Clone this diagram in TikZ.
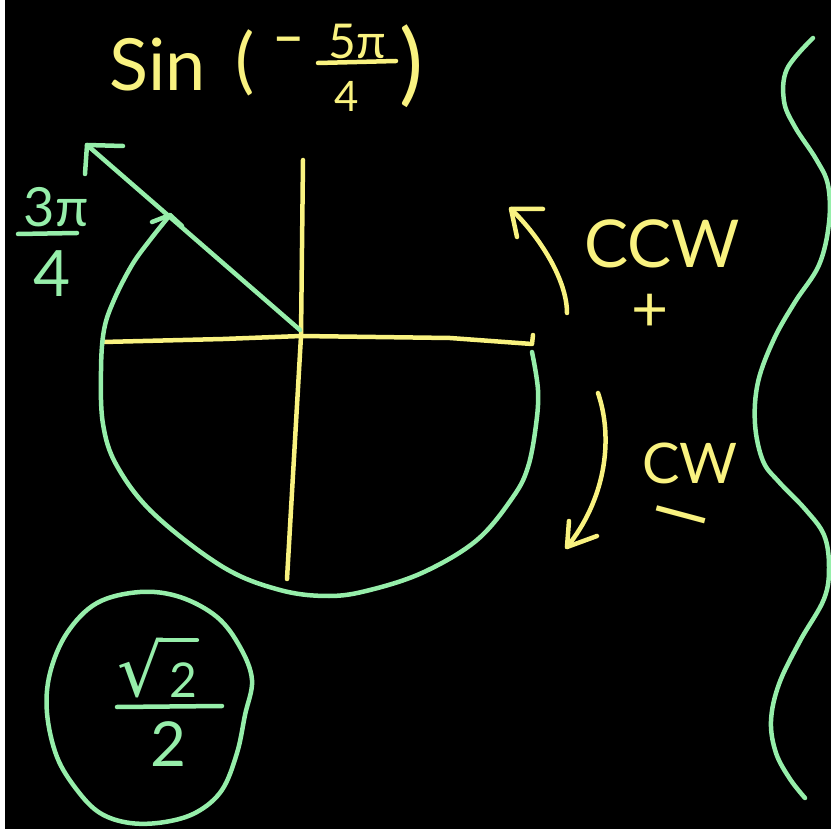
\documentclass[tikz,border=0pt]{standalone}
\usepackage{fontspec}
\setmainfont{Lato}
\newfontfamily\dejavu{DejaVu Sans}
\definecolor{yel}{RGB}{249,242,128}
\definecolor{mint}{RGB}{150,238,170}
\newcommand\handfs[1]{\fontsize{#1}{#1}\selectfont}
\begin{document}
\begin{tikzpicture}[x=1pt,y=-1pt,
  stroke/.style={line width=4.5pt,line cap=round,line join=round},
  ystroke/.style={stroke,draw=yel},
  gstroke/.style={stroke,draw=mint},
  lbl/.style={inner sep=0pt,outer sep=0pt},
  ytxt/.style={lbl,text=yel},
  gtxt/.style={lbl,text=mint}]
\useasboundingbox (0,0) rectangle (831,829);
\fill[white] (0,0) rectangle (831,829);
\fill[black] (5,0) rectangle (831,829);

% title
\node[ytxt,font=\handfs{72},anchor=base] (sin) at (158,91) {Sin};
\node[ytxt,font=\handfs{72},anchor=base] (lpar) at (245,86) {(};
\node[ytxt,font=\dejavu\handfs{52},anchor=base,xscale=0.7,transform shape] (minus) at (289,56) {−};
\node[ytxt,font=\handfs{48},anchor=base] (fivepi) at (357,59) {5π};
\node[ytxt,font=\handfs{42},anchor=base] (four) at (347,112) {4};
\node[ytxt,font=\handfs{90},anchor=base] (rpar) at (412,95) {)};
\coordinate (tb1) at (318,63); \coordinate (tb2) at (396,61);
\draw[ystroke] (tb1) -- (tb2);

% axes
\coordinate (O) at (301,336);
\coordinate (vt) at (303,160); \coordinate (vb) at (287,579);
\coordinate (hl) at (103,342); \coordinate (hr) at (532,344); \coordinate (hrt) at (533,335);
\draw[ystroke] (vt) -- (O) -- (vb);
\draw[ystroke] (hl) -- (223,339) -- (O) -- (450,338) -- (hr) -- (hrt);

% green arc (clockwise from 0 to -5pi/4)
\draw[gstroke] plot[smooth,tension=0.6] coordinates {(532,352) (538,390) (536,425) (528,467) (513,497) (477,540) (424,572) (370,590) (329,596) (280,590) (223,567) (154,514) (117,466) (103,424) (101,371) (104,330) (114,300) (132,265) (150,240) (170,215)};
\coordinate (arcTip) at (170,215);
\draw[gstroke] (152,222) -- (arcTip) -- (182,226);

% terminal side
\coordinate (O2) at (300,330);
\coordinate (rTip) at (87,145);
\draw[gstroke] (O2) -- (rTip);
\draw[gstroke] (123,146) -- (rTip) -- (85,174);

% 3pi/4 label
\node[gtxt,font=\handfs{54},anchor=base] (threepi) at (56,227) {3π};
\node[gtxt,font=\handfs{64},anchor=base] (lfour) at (52,297) {4};
\coordinate (lb1) at (18,234); \coordinate (lb2) at (77,233);
\draw[gstroke] (lb1) -- (lb2);

% CCW arrow
\coordinate (ccwTail) at (567,313); \coordinate (ccwTip) at (511,209);
\draw[ystroke] (ccwTail) .. controls (567,280) and (540,237) .. (ccwTip);
\draw[ystroke] (543,209) -- (ccwTip) -- (517,237);
\node[ytxt,font=\handfs{66},anchor=base] (ccw) at (662,268) {CCW};
\node[ytxt,font=\handfs{64}] (plus) at (650,313) {+};

% CW arrow
\coordinate (cwTail) at (598,393); \coordinate (cwTip) at (567,547);
\draw[ystroke] (cwTail) .. controls (614,440) and (605,500) .. (cwTip);
\draw[ystroke] (597,536) -- (cwTip) -- (569,521);
\node[ytxt,font=\handfs{56},anchor=base] (cw) at (690,483) {CW};
\node[ytxt,font=\dejavu\handfs{64},anchor=base,rotate=-15,xscale=1.25,transform shape] (neg) at (676,534) {−};

% wave
\draw[gstroke] plot[smooth,tension=0.6] coordinates {(813,38) (787,69) (784,101) (795,127) (816,159) (828,185) (829,223) (819,265) (795,302) (774,339) (758,382) (755,424) (763,461) (779,482) (805,509) (824,535) (829,567) (824,599) (800,641) (779,684) (771,721) (776,753) (790,779) (805,798)};

% circled answer
\draw[gstroke] plot[smooth cycle,tension=0.6] coordinates {(252,680) (240,647) (217,617) (180,597) (140,592) (97,603) (67,633) (50,673) (47,713) (57,757) (77,790) (100,813) (130,823) (165,822) (197,812) (222,790) (237,753) (245,715)};
\node[gtxt,font=\dejavu\handfs{72}] (rad) at (140,668) {√};
\node[gtxt,font=\handfs{48}] (rtwo) at (183,680) {2};
\draw[gstroke] ([xshift=-3pt,yshift=-2pt]rad.north east) -- ([yshift=-2pt]rad.north east -| rtwo.east);
\node[gtxt,font=\handfs{62}] (two) at (168,744) {2};
\coordinate (fb1) at (117,707); \coordinate (fb2) at (222,706);
\draw[gstroke] (fb1) -- (fb2);
\end{tikzpicture}
\end{document}
